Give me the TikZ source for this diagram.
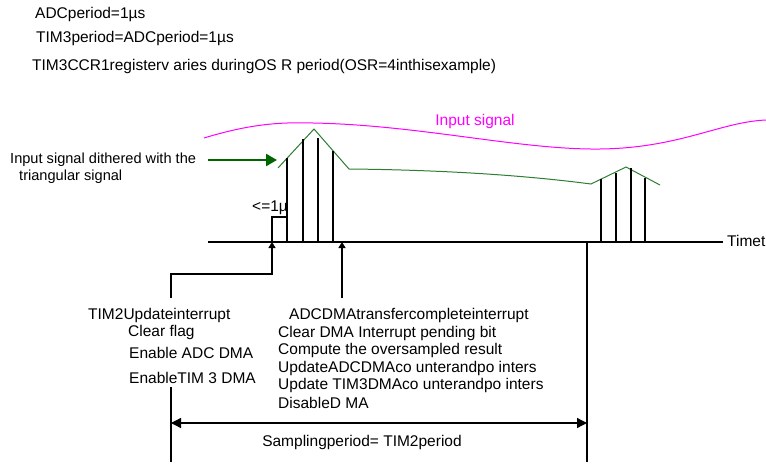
\documentclass[tikz,border=0pt]{standalone}
\usepackage{fontspec}
\setmainfont{Liberation Sans}
\usetikzlibrary{arrows.meta, positioning, calc}
\definecolor{sigmagenta}{HTML}{FF00FF}
\definecolor{dithgreen}{HTML}{2E7D32}
\definecolor{arrgreen}{HTML}{006400}

\begin{document}
\begin{tikzpicture}[
    x=1pt, y=-1pt,
    txt/.style={font=\fontsize{15.5}{18}\selectfont, inner sep=0pt, anchor=west},
    bar/.style={line width=1.5pt},
    marker/.style={line width=1.3pt, -{Triangle[length=6pt, width=7pt]}},
    span/.style={line width=1.3pt, {Triangle[length=10pt, width=10pt]}-{Triangle[length=10pt, width=10pt]}},
    greenarrow/.style={arrgreen, line width=2.5pt, -{Triangle[length=11pt, width=12pt]}},
]
\useasboundingbox (0,0) rectangle (766,466);

% Header
\node[txt] (adcper) at (35,14) {ADCperiod=1µs};
\node[txt] (timper) at (36,38) {TIM3period=ADCperiod=1µs};
\node[txt] (ccrnote) at (32,66) {TIM3CCR1registerv aries duringOS R period(OSR=4inthisexample)};

% Input signal
\draw[sigmagenta, line width=1pt] (204,138) .. controls (250,124) and (280,122) .. (313,123)
    .. controls (420,125) and (520,150) .. (600,149)
    .. controls (680,148) and (720,122) .. (766,120);
\node[txt, anchor=center, text=sigmagenta] (inlabel) at (475,121) {Input signal};

% Dithered signal
\draw[dithgreen, line width=1pt] (278,168) -- (314,129) -- (349,169)
    .. controls (450,170) and (530,176) .. (591,184) -- (626,167) -- (660,185);
\node[txt, align=left, font=\fontsize{14.6}{17}\selectfont] (dithlabel) at (10,168) {Input signal dithered with the\\\hspace{9pt}triangular signal};
\coordinate (dithfrom) at (208,160);
\coordinate (dithto) at (277,160);
\draw[greenarrow] (dithfrom) -- (dithto);

% Time axis
\coordinate (tstart) at (208,242);
\node[txt] (timet) at (727,241) {Timet};
\draw[bar] (tstart) -- (tstart -| timet.west) [shorten >=4pt];

% Samples
\foreach \x/\t in {287/158, 303/139, 318/138, 333/151, 601/179, 616/173, 631/168, 645/178}
    \draw[bar] (\x,242) -- (\x,\t);
\draw[bar] (272,242) -- (272,217) -- (287,217);
\node[txt] (lessone) at (252,208) {<=1µ};

% Interrupt markers
\coordinate (tupd) at (272,242);
\coordinate (tdma) at (342,242);
\coordinate (updfoot) at (171,298);
\coordinate (dmafoot) at (342,298);
\draw[marker] (updfoot) |- ($(tupd)+(0,32)$) -- (tupd);
\draw[marker] (dmafoot) -- (tdma);

% TIM2 update interrupt
\node[txt] (upd) at (88,315) {TIM2Updateinterrupt};
\node[txt] (clrflag) at (128,332) {Clear flag};
\node[txt] (enadc) at (129,353) {Enable ADC DMA};
\node[txt] (entim) at (129,378) {EnableTIM 3 DMA};

% DMA transfer complete interrupt
\node[txt] (dmaint) at (289,315) {ADCDMAtransfercompleteinterrupt};
\node[txt] (clrdma) at (278,333) {Clear DMA Interrupt pending bit};
\node[txt] (comp) at (278,350) {Compute the oversampled result};
\node[txt] (updadc) at (278,368) {UpdateADCDMAco unterandpo inters};
\node[txt] (updtim) at (278,385) {Update TIM3DMAco unterandpo inters};
\node[txt] (disdma) at (278,403) {DisableD MA};

% Sampling period
\coordinate (lspan) at (171,423);
\coordinate (rspan) at (587,423);
\draw[bar] (171,387) -- (171,462);
\draw[bar] (587,242) -- (587,462);
\draw[span] (lspan) -- (rspan);
\node[txt, anchor=center] (samp) at (362,442) {Samplingperiod= TIM2period};

\end{tikzpicture}
\end{document}
